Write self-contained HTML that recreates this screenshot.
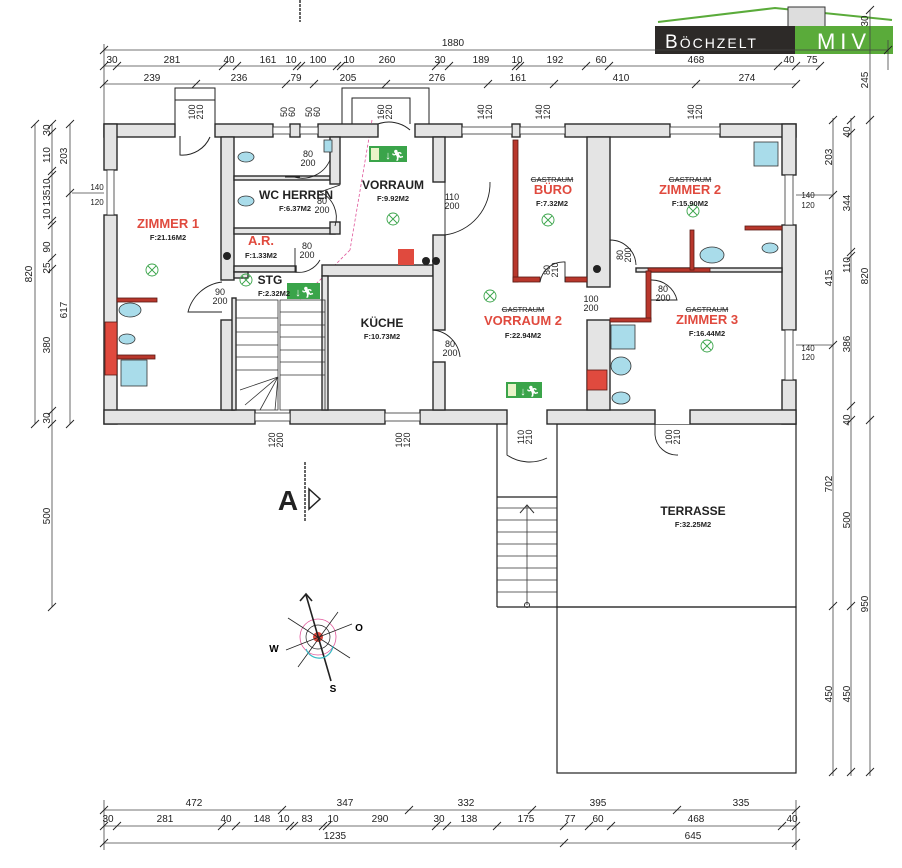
<!DOCTYPE html>
<html><head><meta charset="utf-8"><style>
html,body{margin:0;padding:0;background:#fff}
svg{display:block}
text{font-family:"Liberation Sans",Arial,sans-serif}
.d{font-size:10px;fill:#222}
.w{fill:#e4e4e4;stroke:#2a2a2a;stroke-width:1.4}
.r{fill:#b8372c;stroke:#5a1a14;stroke-width:0.8}
.dl{stroke:#444;stroke-width:0.8;fill:none}
.t{stroke:#222;stroke-width:0.9}
.n{font-size:12px;font-weight:bold;fill:#222;text-anchor:middle}
.rn{font-size:13px;font-weight:bold;fill:#e04a3e;text-anchor:middle}
.a{font-size:7.5px;font-weight:bold;fill:#222;text-anchor:middle}
.g{font-size:7.5px;fill:#222;text-anchor:middle;text-decoration:line-through}
.th{stroke:#222;stroke-width:1;fill:none}
.fx{font-size:9px;fill:#222;text-anchor:middle}
</style></head><body>
<svg width="902" height="868" viewBox="0 0 902 868" xmlns="http://www.w3.org/2000/svg">
<!-- logo -->
<polyline points="658,22 775,8 892,20" fill="none" stroke="#5aab3a" stroke-width="2"/>
<rect x="788" y="7" width="37" height="20" fill="#ddd" stroke="#333"/>
<rect x="655" y="26" width="140" height="28" fill="#2d2a28"/>
<rect x="795" y="26" width="98" height="28" fill="#5aab3a"/>
<text x="665" y="48" font-size="19" fill="#fff" letter-spacing="2">B<tspan font-size="14">ÖCHZELT</tspan></text>
<text x="844" y="49" font-size="22" fill="#fff" text-anchor="middle" letter-spacing="5">MIV</text>
<line x1="300" y1="0" x2="300" y2="22" stroke="#333" stroke-width="1.5" stroke-dasharray="3,1"/>

<!-- top dims -->
<g class="dl">
<line x1="104" y1="50" x2="888" y2="50"/><line x1="104" y1="66" x2="820" y2="66"/><line x1="104" y1="84" x2="796" y2="84"/>
<line x1="104" y1="44" x2="104" y2="124"/><line x1="888" y1="40" x2="888" y2="70"/>
</g>
<g class="t">
<path d="M100,54l8,-8M100,70l8,-8M113,70l8,-8M219,70l8,-8M233,70l8,-8M293,70l8,-8M297,70l8,-8M333,70l8,-8M337,70l8,-8M432,70l8,-8M445,70l8,-8M512,70l8,-8M516,70l8,-8M582,70l8,-8M605,70l8,-8M774,70l8,-8M792,70l8,-8M816,70l8,-8M100,88l8,-8M192,88l8,-8M282,88l8,-8M310,88l8,-8M382,88l8,-8M484,88l8,-8M550,88l8,-8M692,88l8,-8M792,88l8,-8M884,54l8,-8"/>
</g>
<g class="d" text-anchor="middle">
<text x="453" y="46">1880</text>
<text x="112" y="63">30</text><text x="172" y="63">281</text><text x="229" y="63">40</text><text x="268" y="63">161</text><text x="291" y="63">10</text><text x="318" y="63">100</text><text x="349" y="63">10</text><text x="387" y="63">260</text><text x="440" y="63">30</text><text x="481" y="63">189</text><text x="517" y="63">10</text><text x="555" y="63">192</text><text x="601" y="63">60</text><text x="696" y="63">468</text><text x="789" y="63">40</text><text x="812" y="63">75</text>
<text x="152" y="81">239</text><text x="239" y="81">236</text><text x="296" y="81">79</text><text x="348" y="81">205</text><text x="437" y="81">276</text><text x="518" y="81">161</text><text x="621" y="81">410</text><text x="747" y="81">274</text>
</g>

<!-- left dims -->
<g class="dl"><line x1="35" y1="124" x2="35" y2="424"/><line x1="52" y1="124" x2="52" y2="607"/><line x1="70" y1="124" x2="70" y2="424"/><line x1="72" y1="193" x2="118" y2="193"/></g>
<g class="t"><path d="M31,128l8,-8M31,428l8,-8M48,128l8,-8M48,136l8,-8M48,175l8,-8M48,179l8,-8M48,225l8,-8M48,229l8,-8M48,262l8,-8M48,273l8,-8M48,415l8,-8M48,428l8,-8M48,611l8,-8M66,128l8,-8M66,197l8,-8M66,428l8,-8"/></g>
<g class="d" text-anchor="middle">
<text transform="translate(32,274) rotate(-90)">820</text><text transform="translate(67,156) rotate(-90)">203</text><text transform="translate(67,310) rotate(-90)">617</text>
<text transform="translate(50,130) rotate(-90)">30</text><text transform="translate(50,155) rotate(-90)">110</text><text transform="translate(50,184) rotate(-90)">10</text><text transform="translate(50,198) rotate(-90)">135</text><text transform="translate(50,214) rotate(-90)">10</text><text transform="translate(50,247) rotate(-90)">90</text><text transform="translate(50,268) rotate(-90)">25</text><text transform="translate(50,345) rotate(-90)">380</text><text transform="translate(50,418) rotate(-90)">30</text><text transform="translate(50,516) rotate(-90)">500</text>
<text x="97" y="190" font-size="8">140</text><text x="97" y="205" font-size="8">120</text>
</g>

<!-- right dims -->
<g class="dl"><line x1="833" y1="118" x2="833" y2="776"/><line x1="851" y1="118" x2="851" y2="776"/><line x1="870" y1="10" x2="870" y2="776"/><line x1="782" y1="195" x2="833" y2="195"/><line x1="782" y1="345" x2="833" y2="345"/></g>
<g class="t"><path d="M829,124l8,-8M829,199l8,-8M829,349l8,-8M829,610l8,-8M829,776l8,-8M847,124l8,-8M847,137l8,-8M847,256l8,-8M847,260l8,-8M847,410l8,-8M847,424l8,-8M847,610l8,-8M847,776l8,-8M866,14l8,-8M866,124l8,-8M866,424l8,-8M866,776l8,-8"/></g>
<g class="d" text-anchor="middle">
<text transform="translate(832,157) rotate(-90)">203</text><text transform="translate(832,278) rotate(-90)">415</text><text transform="translate(832,484) rotate(-90)">702</text><text transform="translate(832,694) rotate(-90)">450</text>
<text transform="translate(850,132) rotate(-90)">40</text><text transform="translate(850,203) rotate(-90)">344</text><text transform="translate(850,265) rotate(-90)">110</text><text transform="translate(850,344) rotate(-90)">386</text><text transform="translate(850,420) rotate(-90)">40</text><text transform="translate(850,520) rotate(-90)">500</text><text transform="translate(850,694) rotate(-90)">450</text>
<text transform="translate(868,80) rotate(-90)">245</text><text transform="translate(868,21) rotate(-90)">30</text><text transform="translate(868,276) rotate(-90)">820</text><text transform="translate(868,604) rotate(-90)">950</text>
<text x="808" y="198" font-size="8">140</text><text x="808" y="208" font-size="8">120</text><text x="808" y="351" font-size="8">140</text><text x="808" y="360" font-size="8">120</text>
</g>

<!-- bottom dims -->
<g class="dl"><line x1="104" y1="810" x2="796" y2="810"/><line x1="104" y1="826" x2="796" y2="826"/><line x1="104" y1="843" x2="796" y2="843"/><line x1="104" y1="800" x2="104" y2="850"/><line x1="796" y1="800" x2="796" y2="850"/></g>
<g class="t"><path d="M100,814l8,-8M278,814l8,-8M405,814l8,-8M528,814l8,-8M673,814l8,-8M792,814l8,-8M100,830l8,-8M113,830l8,-8M218,830l8,-8M232,830l8,-8M286,830l8,-8M290,830l8,-8M319,830l8,-8M323,830l8,-8M432,830l8,-8M443,830l8,-8M493,830l8,-8M560,830l8,-8M585,830l8,-8M607,830l8,-8M778,830l8,-8M792,830l8,-8M100,847l8,-8M560,847l8,-8M792,847l8,-8"/></g>
<g class="d" text-anchor="middle">
<text x="194" y="806">472</text><text x="345" y="806">347</text><text x="466" y="806">332</text><text x="598" y="806">395</text><text x="741" y="806">335</text>
<text x="108" y="822">30</text><text x="165" y="822">281</text><text x="226" y="822">40</text><text x="262" y="822">148</text><text x="284" y="822">10</text><text x="307" y="822">83</text><text x="333" y="822">10</text><text x="380" y="822">290</text><text x="439" y="822">30</text><text x="469" y="822">138</text><text x="526" y="822">175</text><text x="570" y="822">77</text><text x="598" y="822">60</text><text x="696" y="822">468</text><text x="792" y="822">40</text>
<text x="335" y="839">1235</text><text x="693" y="839">645</text>
</g>

<!-- terrace & stairs -->
<g fill="none" stroke="#222" stroke-width="1.2">
<rect x="557" y="424" width="239" height="183"/><rect x="557" y="607" width="239" height="166"/>
<line x1="497" y1="424" x2="497" y2="607"/>
<line x1="497" y1="497" x2="557" y2="497"/><line x1="497" y1="607" x2="557" y2="607"/>
</g>
<g stroke="#333" stroke-width="0.8">
<line x1="497" y1="508" x2="557" y2="508"/><line x1="497" y1="520" x2="557" y2="520"/><line x1="497" y1="532" x2="557" y2="532"/><line x1="497" y1="544" x2="557" y2="544"/><line x1="497" y1="556" x2="557" y2="556"/><line x1="497" y1="568" x2="557" y2="568"/><line x1="497" y1="580" x2="557" y2="580"/><line x1="497" y1="592" x2="557" y2="592"/>
<line x1="527" y1="505" x2="527" y2="605"/></g>
<path d="M520,513 L527,505 L534,513" fill="none" stroke="#333"/>
<circle cx="527" cy="605" r="2.5" fill="none" stroke="#333"/>
<text x="693" y="515" class="n" font-size="11">TERRASSE</text><text x="693" y="527" class="a" font-size="7">F:32.25M2</text>

<!-- A marker -->
<text x="288" y="510" font-size="28" font-weight="900" fill="#222" text-anchor="middle">A</text>
<line x1="305" y1="462" x2="305" y2="522" stroke="#333" stroke-width="1.5" stroke-dasharray="3,1"/>
<path d="M309,489 L320,499 L309,509 Z" fill="#fff" stroke="#222" stroke-width="1.5"/>

<!-- compass -->
<g>
<circle cx="318" cy="637" r="18" fill="none" stroke="#e0559a" stroke-width="0.8"/>
<circle cx="318" cy="637" r="12" fill="none" stroke="#222" stroke-width="0.7"/>
<circle cx="318" cy="637" r="5" fill="#e04a3e"/>
<line x1="306" y1="595" x2="331" y2="681" stroke="#222" stroke-width="1.6"/>
<path d="M300,601 L306,594 L312,601" fill="none" stroke="#222" stroke-width="1.6"/>
<line x1="286" y1="650" x2="352" y2="624" stroke="#222" stroke-width="0.8"/>
<line x1="288" y1="618" x2="350" y2="658" stroke="#222" stroke-width="0.8"/>
<line x1="338" y1="612" x2="298" y2="667" stroke="#222" stroke-width="0.8"/>
<path d="M306,649 A14,14 0 0 0 333,646" fill="none" stroke="#35b9c4" stroke-width="1.2"/>
<text x="359" y="631" font-size="10" font-weight="bold" text-anchor="middle">O</text>
<text x="274" y="652" font-size="10" font-weight="bold" text-anchor="middle">W</text>
<text x="333" y="692" font-size="10" font-weight="bold" text-anchor="middle">S</text>
</g>

<!-- building floor -->
<rect x="104" y="124" width="692" height="300" fill="#fff"/>
<!-- door enclosures top -->
<g fill="none" stroke="#222" stroke-width="1">
<rect x="175" y="88" width="40" height="12"/><line x1="175" y1="100" x2="175" y2="124"/><line x1="215" y1="100" x2="215" y2="124"/>
<path d="M342,124 V88 H429 V124 M352,124 V98 H410 V124"/>
<path d="M378,124 A32,32 0 0 1 410,130"/>
<path d="M180,136 V155 A30,30 0 0 0 210,137"/>
</g>
<line x1="372" y1="120" x2="350" y2="250" stroke="#e0559a" stroke-width="0.8" stroke-dasharray="3,2"/>
<line x1="350" y1="250" x2="300" y2="300" stroke="#e0559a" stroke-width="0.8" stroke-dasharray="3,2"/>

<!-- outer walls -->
<g class="w">
<rect x="104" y="124" width="71" height="13"/><rect x="215" y="124" width="58" height="13"/><rect x="290" y="124" width="10" height="13"/><rect x="318" y="124" width="60" height="13"/><rect x="415" y="124" width="47" height="13"/><rect x="512" y="124" width="8" height="13"/><rect x="565" y="124" width="105" height="13"/><rect x="720" y="124" width="76" height="13"/>
<rect x="104" y="124" width="13" height="46"/><rect x="104" y="215" width="13" height="209"/>
<rect x="782" y="124" width="14" height="51"/><rect x="782" y="225" width="14" height="105"/><rect x="782" y="380" width="14" height="44"/>
<rect x="104" y="410" width="151" height="14"/><rect x="290" y="410" width="95" height="14"/><rect x="420" y="410" width="87" height="14"/><rect x="547" y="410" width="108" height="14"/><rect x="690" y="410" width="106" height="14"/>
<!-- inner -->
<rect x="221" y="137" width="13" height="143"/><rect x="221" y="320" width="13" height="90"/>
<rect x="234" y="176" width="96" height="4"/><rect x="234" y="228" width="101" height="6"/><rect x="234" y="266" width="62" height="6"/><rect x="234" y="272" width="14" height="6"/>
<rect x="330" y="137" width="10" height="47"/><rect x="330" y="222" width="10" height="12"/>
<rect x="322" y="265" width="111" height="11"/><rect x="322" y="276" width="6" height="134"/><rect x="232" y="298" width="4" height="112"/>
<rect x="433" y="137" width="12" height="45"/><rect x="433" y="235" width="12" height="95"/><rect x="433" y="362" width="12" height="48"/>
<rect x="587" y="137" width="23" height="150"/><rect x="587" y="320" width="23" height="90"/>
<rect x="636" y="268" width="146" height="4"/>
</g>
<!-- windows -->
<g fill="#fff" stroke="#333" stroke-width="0.8">
<rect x="273" y="127" width="17" height="7"/><rect x="300" y="127" width="18" height="7"/><rect x="462" y="127" width="50" height="7"/><rect x="520" y="127" width="45" height="7"/><rect x="670" y="127" width="50" height="7"/>
<rect x="107" y="170" width="7" height="45"/><rect x="785" y="175" width="8" height="50"/><rect x="785" y="330" width="8" height="50"/>
<rect x="255" y="413" width="35" height="8"/><rect x="385" y="413" width="35" height="8"/>
</g>
<!-- red walls -->
<g class="r">
<rect x="105" y="322" width="12" height="53" fill="#e04a3e"/><rect x="117" y="298" width="40" height="4"/><rect x="117" y="355" width="38" height="4"/>
<rect x="513" y="140" width="5" height="142"/><rect x="513" y="277" width="27" height="5"/><rect x="565" y="277" width="22" height="5"/>
<rect x="648" y="268" width="62" height="4"/><rect x="690" y="230" width="4" height="40"/><rect x="745" y="226" width="37" height="4"/>
<rect x="646" y="271" width="5" height="50"/><rect x="610" y="318" width="41" height="4"/>
<rect x="587" y="370" width="20" height="20" fill="#e04a3e"/>
</g>
<!-- doors -->
<g fill="none" stroke="#222" stroke-width="0.9">
<path d="M285,177 H300 M294,177 A30,30 0 0 0 330,160"/>
<path d="M335,226 A28,28 0 0 0 320,192 M340,185 L320,192"/>
<path d="M445,182 V235 M445,235 A52,52 0 0 0 490,182"/>
<path d="M433,330 V362 M433,330 A30,30 0 0 1 460,357"/>
<path d="M222,282 A40,40 0 0 0 188,312 H222"/>
<path d="M540,282 A24,24 0 0 1 565,262 V282"/>
<path d="M610,285 V240 A26,26 0 0 1 636,265"/>
<path d="M651,280 A26,26 0 0 1 677,300 H651"/>
<path d="M507,424 V455 A40,40 0 0 0 547,458"/>
<path d="M655,424 V435 A22,22 0 0 0 678,455"/>
<path d="M295,248 V272 A24,24 0 0 0 320,260"/>
</g>
<!-- stairs -->
<g stroke="#333" stroke-width="0.8" fill="none">
<rect x="236" y="300" width="42" height="110"/><rect x="280" y="300" width="45" height="110"/>
<path d="M236,318H278M236,332H278M236,345H278M236,357H278M236,370H278M280,312H325M280,325H325M280,337H325M280,350H325M280,362H325M280,375H325M278,377L240,390M278,377L245,405M278,377L260,410M278,377L275,410"/>
</g>
<!-- fixtures -->
<g fill="#a9dcea" stroke="#333" stroke-width="0.8">
<rect x="121" y="360" width="26" height="26"/><ellipse cx="130" cy="310" rx="11" ry="7"/><ellipse cx="127" cy="339" rx="8" ry="5"/>
<ellipse cx="246" cy="157" rx="8" ry="5"/><ellipse cx="246" cy="201" rx="8" ry="5"/><rect x="324" y="140" width="8" height="12"/>
<rect x="754" y="142" width="24" height="24"/><ellipse cx="712" cy="255" rx="12" ry="8"/><ellipse cx="770" cy="248" rx="8" ry="5"/>
<rect x="611" y="325" width="24" height="24"/><ellipse cx="621" cy="366" rx="10" ry="9"/><ellipse cx="621" cy="398" rx="9" ry="6"/>
</g>
<!-- exit signs -->
<g>
<rect x="369" y="146" width="38" height="16" fill="#3aa44a"/><rect x="371" y="148" width="8" height="12" fill="#e9f3c8"/><text x="395" y="159" font-size="11" fill="#fff" text-anchor="middle">↓🏃︎</text>
<rect x="287" y="283" width="33" height="16" fill="#3aa44a"/><text x="305" y="296" font-size="11" fill="#fff" text-anchor="middle">↓🏃︎</text>
<rect x="506" y="382" width="36" height="16" fill="#3aa44a"/><rect x="508" y="384" width="8" height="12" fill="#e9f3c8"/><text x="530" y="395" font-size="11" fill="#fff" text-anchor="middle">↓🏃︎</text>
<rect x="398" y="249" width="16" height="16" fill="#e04a3e"/>
<circle cx="426" cy="261" r="4" fill="#222"/><circle cx="436" cy="261" r="4" fill="#222"/><circle cx="227" cy="256" r="4" fill="#222"/><circle cx="597" cy="269" r="4" fill="#222"/>
</g>
<!-- lights -->
<g fill="none" stroke="#3aa44a" stroke-width="0.9">
<circle cx="152" cy="270" r="6"/><circle cx="393" cy="219" r="6"/><circle cx="548" cy="220" r="6"/><circle cx="490" cy="296" r="6"/><circle cx="707" cy="346" r="6"/><circle cx="693" cy="211" r="6"/><circle cx="246" cy="280" r="6"/>
<path d="M148,266l8,8M156,266l-8,8M389,215l8,8M397,215l-8,8M544,216l8,8M552,216l-8,8M486,292l8,8M494,292l-8,8M703,342l8,8M711,342l-8,8M689,207l8,8M697,207l-8,8M242,276l8,8M250,276l-8,8"/>
</g>
<!-- labels -->
<text x="168" y="228" class="rn" font-size="12">ZIMMER 1</text><text x="168" y="240" class="a">F:21.16M2</text>
<text x="296" y="199" class="n">WC HERREN</text><text x="295" y="211" class="a">F:6.37M2</text>
<text x="393" y="189" class="n">VORRAUM</text><text x="393" y="201" class="a">F:9.92M2</text>
<text x="261" y="245" class="rn" font-size="11">A.R.</text><text x="261" y="258" class="a">F:1.33M2</text>
<text x="270" y="284" class="n">STG</text><text x="274" y="296" class="a">F:2.32M2</text>
<text x="382" y="327" class="n">KÜCHE</text><text x="382" y="339" class="a">F:10.73M2</text>
<text x="552" y="182" class="g">GASTRAUM</text><text x="553" y="194" class="rn" font-size="11">BÜRO</text><text x="552" y="206" class="a">F:7.32M2</text>
<text x="690" y="182" class="g">GASTRAUM</text><text x="690" y="194" class="rn" font-size="11">ZIMMER 2</text><text x="690" y="206" class="a">F:15.90M2</text>
<text x="523" y="312" class="g">GASTRAUM</text><text x="523" y="325" class="rn" font-size="11">VORRAUM 2</text><text x="523" y="338" class="a">F:22.94M2</text>
<text x="707" y="312" class="g">GASTRAUM</text><text x="707" y="324" class="rn" font-size="11">ZIMMER 3</text><text x="707" y="336" class="a">F:16.44M2</text>
<!-- door fractions -->
<g class="fx" font-size="8">
<text x="308" y="157">80</text><text x="308" y="166">200</text>
<text x="322" y="204">80</text><text x="322" y="213">200</text>
<text x="452" y="200">110</text><text x="452" y="209">200</text>
<text x="450" y="347">80</text><text x="450" y="356">200</text>
<text x="220" y="295">90</text><text x="220" y="304">200</text>
<text x="307" y="249">80</text><text x="307" y="258">200</text>
<text x="591" y="302">100</text><text x="591" y="311">200</text>
<text x="663" y="292">80</text><text x="663" y="301">200</text>
<text transform="translate(550,270) rotate(-90)">80</text><text transform="translate(558,270) rotate(-90)">210</text>
<text transform="translate(623,255) rotate(-90)">80</text><text transform="translate(631,255) rotate(-90)">200</text>
<text transform="translate(524,437) rotate(-90)">110</text><text transform="translate(532,437) rotate(-90)">210</text>
<text transform="translate(672,437) rotate(-90)">100</text><text transform="translate(680,437) rotate(-90)">210</text>
<text transform="translate(275,440) rotate(-90)">120</text><text transform="translate(283,440) rotate(-90)">200</text>
<text transform="translate(402,440) rotate(-90)">100</text><text transform="translate(410,440) rotate(-90)">120</text>
<text transform="translate(195,112) rotate(-90)">100</text><text transform="translate(203,112) rotate(-90)">210</text>
<text transform="translate(384,112) rotate(-90)">160</text><text transform="translate(392,112) rotate(-90)">220</text>
<text transform="translate(287,112) rotate(-90)">50</text><text transform="translate(295,112) rotate(-90)">60</text>
<text transform="translate(312,112) rotate(-90)">50</text><text transform="translate(320,112) rotate(-90)">60</text>
<text transform="translate(484,112) rotate(-90)">140</text><text transform="translate(492,112) rotate(-90)">120</text>
<text transform="translate(542,112) rotate(-90)">140</text><text transform="translate(550,112) rotate(-90)">120</text>
<text transform="translate(694,112) rotate(-90)">140</text><text transform="translate(702,112) rotate(-90)">120</text>
</g>
</svg>
</body></html>
